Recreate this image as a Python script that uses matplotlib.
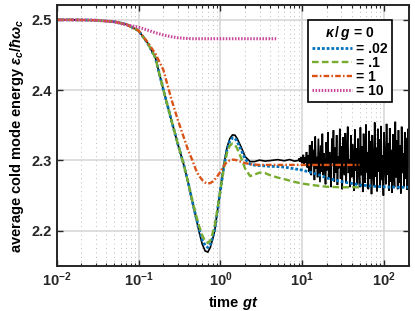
import numpy as np
import matplotlib
matplotlib.use("Agg")
import matplotlib.pyplot as plt
from matplotlib.ticker import FixedLocator, FuncFormatter, LogLocator, NullFormatter

plt.rcParams['font.family'] = ['Liberation Sans', 'DejaVu Sans']
plt.rcParams['font.weight'] = 'bold'
plt.rcParams['mathtext.fontset'] = 'custom'
plt.rcParams['mathtext.rm'] = 'Liberation Sans'
plt.rcParams['mathtext.it'] = 'Liberation Sans:italic'
plt.rcParams['mathtext.bf'] = 'Liberation Sans:bold'
plt.rcParams['mathtext.bfit'] = 'Liberation Sans:italic:bold'

# time points shared by the smooth curves (gt)
t_early = [0.01, 0.02, 0.03, 0.05, 0.07, 0.1, 0.13, 0.16, 0.2, 0.25, 0.3, 0.35,
           0.4, 0.45, 0.5, 0.55, 0.6, 0.65, 0.7, 0.75, 0.8, 0.85, 0.9, 1.0, 1.1,
           1.2, 1.3, 1.4, 1.5, 1.6, 1.8, 2.0, 2.3, 2.6, 3.0, 3.5, 4.0, 5.0]
t_late_long = [6, 7, 8, 10, 15, 20, 30, 50, 70, 100, 150, 200]
t_late_short = [6, 7, 8, 10, 15, 20, 30, 50]

# kappa/g = 0
e_k0 = [2.5000, 2.4997, 2.4993, 2.4972, 2.4936, 2.4844, 2.4659, 2.4460, 2.4006,
        2.3580, 2.3239, 2.2969, 2.2699, 2.2429, 2.2188, 2.1974, 2.1804, 2.1712,
        2.1697, 2.1761, 2.1875, 2.2003, 2.2216, 2.2599, 2.2940, 2.3182, 2.3310,
        2.3362, 2.3359, 2.3310, 2.3182, 2.3054, 2.2983, 2.2983, 2.3004, 2.2990,
        2.2997, 2.3011]
t_k0_mid = [6, 7, 8]
e_k0_mid = [2.2995, 2.3012, 2.2990]
# fluctuating tail of kappa/g = 0, from gt = 9 to 200
e_k0_tail = [
    2.300, 2.303, 2.298, 2.305, 2.296, 2.301, 2.308, 2.293, 2.304, 2.297, 2.312, 2.290, 2.307,
    2.284, 2.322, 2.296, 2.279, 2.327, 2.292, 2.315, 2.272, 2.334, 2.288, 2.305, 2.276, 2.331,
    2.298, 2.269, 2.321, 2.284, 2.338, 2.279, 2.310, 2.293, 2.266, 2.326,
    2.286, 2.340, 2.275, 2.312, 2.292, 2.262, 2.331, 2.297, 2.343, 2.270, 2.318, 2.283, 2.336,
    2.265, 2.306, 2.289, 2.345, 2.274, 2.320, 2.259, 2.333, 2.291, 2.279, 2.339, 2.268, 2.314,
    2.348, 2.282, 2.301, 2.262, 2.336, 2.276, 2.323, 2.294, 2.257, 2.344, 2.285, 2.317, 2.266,
    2.331, 2.290,
    2.262, 2.347, 2.279, 2.320, 2.255, 2.338, 2.296, 2.268, 2.351, 2.283, 2.312, 2.259, 2.342,
    2.274, 2.327, 2.252, 2.336, 2.289, 2.264, 2.354, 2.277, 2.318, 2.256, 2.345, 2.284, 2.330,
    2.261, 2.349, 2.272, 2.307, 2.250, 2.340, 2.293, 2.266, 2.352, 2.280, 2.324, 2.257, 2.346,
    2.270, 2.315, 2.254, 2.337, 2.287, 2.262, 2.355, 2.276, 2.329, 2.259, 2.343, 2.268, 2.321,
    2.253, 2.348, 2.282, 2.310, 2.263, 2.340, 2.274, 2.332, 2.258, 2.345, 2.290]
t_k0_tail = np.geomspace(9, 200, len(e_k0_tail))

# kappa/g = .02
e_k002 = [2.5000, 2.4997, 2.4993, 2.4972, 2.4936, 2.4844, 2.4659, 2.4460, 2.4006,
          2.3580, 2.3239, 2.2969, 2.2699, 2.2429, 2.2202, 2.2017, 2.1868, 2.1790,
          2.1761, 2.1804, 2.1903, 2.2017, 2.2216, 2.2585, 2.2912, 2.3153, 2.3274,
          2.3320, 2.3317, 2.3267, 2.3139, 2.3019, 2.2947, 2.2933, 2.2926, 2.2922,
          2.2916, 2.2912]
e_k002_late = [2.2905, 2.2893, 2.2881, 2.2862, 2.2805, 2.2749, 2.2699, 2.2652,
               2.2635, 2.2624, 2.2618, 2.2618]

# kappa/g = .1
e_k01 = [2.5000, 2.4997, 2.4993, 2.4972, 2.4936, 2.4844, 2.4659, 2.4460, 2.4006,
         2.3580, 2.3239, 2.2969, 2.2699, 2.2443, 2.2230, 2.2060, 2.1932, 2.1854,
         2.1825, 2.1861, 2.1960, 2.2074, 2.2244, 2.2585, 2.2898, 2.3111, 2.3210,
         2.3239, 2.3224, 2.3168, 2.3026, 2.2884, 2.2777, 2.2798, 2.2827, 2.2820,
         2.2791, 2.2756]
e_k01_late = [2.2734, 2.2713, 2.2695, 2.2670, 2.2642, 2.2625, 2.2618, 2.2618]

# kappa/g = 1
e_k1 = [2.5000, 2.4997, 2.4993, 2.4972, 2.4936, 2.4844, 2.4673, 2.4517, 2.4290,
        2.3878, 2.3580, 2.3352, 2.3153, 2.3011, 2.2869, 2.2777, 2.2720, 2.2685,
        2.2670, 2.2678, 2.2699, 2.2727, 2.2763, 2.2841, 2.2926, 2.2976, 2.3001,
        2.3011, 2.3008, 2.3000, 2.2979, 2.2962, 2.2947, 2.2940, 2.2936, 2.2936,
        2.2936, 2.2936]
e_k1_late = [2.2936, 2.2936, 2.2936, 2.2936, 2.2936, 2.2936, 2.2936, 2.2936]

# kappa/g = 10
e_k10 = [2.5000, 2.4997, 2.4993, 2.4972, 2.4929, 2.4893, 2.4851, 2.4815, 2.4783,
         2.4759, 2.4744, 2.4737, 2.4733, 2.4730, 2.4730, 2.4730, 2.4730, 2.4730,
         2.4730, 2.4730, 2.4730, 2.4730, 2.4730, 2.4730, 2.4730, 2.4730, 2.4730,
         2.4730, 2.4730, 2.4730, 2.4730, 2.4730, 2.4730, 2.4730, 2.4730, 2.4730,
         2.4730, 2.4730]

labels = ['= .02', '= .1', '= 1', '= 10']
colors = ['#0072BD', '#77AC30', '#D95319', '#C8479A']

fig = plt.figure(figsize=(4.15, 3.11), dpi=100)
ax = fig.add_axes([0.137, 0.145, 0.848, 0.839])

ax.plot(t_early + t_k0_mid + list(t_k0_tail), e_k0 + e_k0_mid + e_k0_tail,
        color='black', lw=1.2, solid_joinstyle='miter')
ax.plot(t_early + t_late_long, e_k002 + e_k002_late, color=colors[0], lw=2.0,
        ls=(0, (1, 0.7)), label=labels[0])
ax.plot(t_early + t_late_short, e_k01 + e_k01_late, color=colors[1], lw=1.7,
        ls=(0, (2.8, 1.4)), label=labels[1])
ax.plot(t_early + t_late_short, e_k1 + e_k1_late, color=colors[2], lw=1.7,
        ls=(0, (2.4, 0.9, 0.7, 0.9)), label=labels[2])
ax.plot(t_early, e_k10, color=colors[3], lw=2.2, ls=(0, (0.5, 0.5)),
        label=labels[3])

ax.set_xscale('log')
ax.set_xlim(1e-2, 2e2)
ax.set_ylim(2.15, 2.521)

ax.xaxis.set_major_locator(LogLocator(base=10, numticks=10))
ax.xaxis.set_minor_locator(LogLocator(base=10, subs=np.arange(2, 10), numticks=20))
ax.xaxis.set_minor_formatter(NullFormatter())
ax.xaxis.set_major_formatter(FuncFormatter(lambda v, p: r'$\mathbf{10^{%d}}$' % round(np.log10(v))))
ax.yaxis.set_major_locator(FixedLocator([2.2, 2.3, 2.4, 2.5]))
ax.yaxis.set_major_formatter(FuncFormatter(lambda v, p: '%.1f' % v))

ax.grid(True, which='major', color='#d4d4d4', lw=1.1, ls='-')
ax.grid(True, which='minor', axis='x', color='#bdbdbd', lw=0.7, ls=(0, (1, 3.5)))
ax.set_axisbelow(True)

ax.tick_params(which='both', direction='in', top=True, right=True, colors='#262626',
               labelsize=10.5)
ax.tick_params(which='major', length=4, width=1)
ax.tick_params(which='minor', length=2.5, width=0.8)
for lab in ax.get_xticklabels() + ax.get_yticklabels():
    lab.set_fontweight('bold')
for s in ax.spines.values():
    s.set_color('#262626')
    s.set_linewidth(1.4)

ax.set_xlabel(r'time $gt$', fontsize=10.5, fontweight='bold', labelpad=3)
ax.set_ylabel(r'average cold mode energy $\epsilon_c/\hbar\omega_c$', fontsize=10.5,
              fontweight='bold', labelpad=4)

leg = ax.legend(loc='upper right', bbox_to_anchor=(0.952, 0.9425), borderaxespad=0,
                title=r'$\boldsymbol{\kappa}\,/\,\boldsymbol{g}$ = 0', fontsize=10,
                title_fontproperties={'size': 10, 'weight': 'bold'},
                handlelength=2.9, handletextpad=0.3, labelspacing=0.0,
                borderpad=0.3, framealpha=1, fancybox=False, edgecolor='black')
leg.get_frame().set_linewidth(1.2)
for txt in leg.get_texts():
    txt.set_fontweight('bold')

fig.savefig('out.png', dpi=100)
